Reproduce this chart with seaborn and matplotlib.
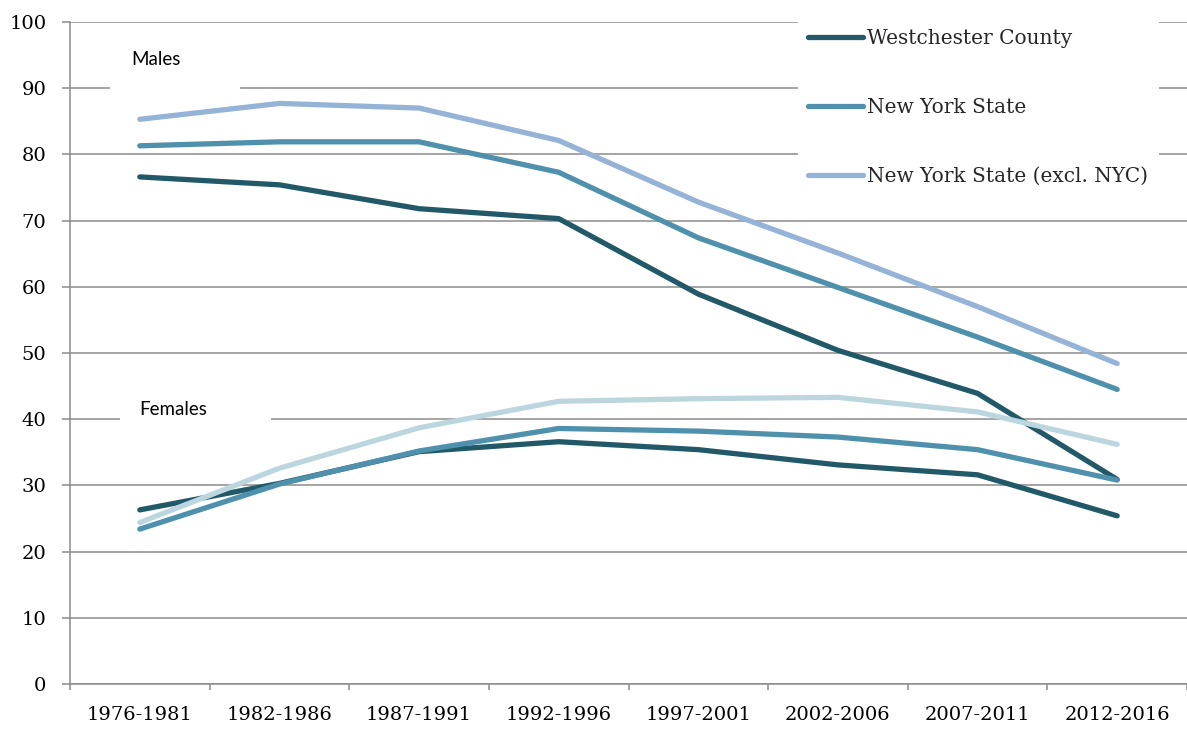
import matplotlib
matplotlib.use("Agg")
import matplotlib.pyplot as plt
from matplotlib.lines import Line2D
from matplotlib.patches import Rectangle
from matplotlib.ticker import FixedLocator
import seaborn as sns
import pandas as pd
import numpy as np

periods = ["1976-1981", "1982-1986", "1987-1991", "1992-1996",
           "1997-2001", "2002-2006", "2007-2011", "2012-2016"]
series_names = ["Westchester County", "New York State", "New York State (excl. NYC)"]

west_m = [76.6, 75.4, 71.8, 70.3, 58.9, 50.4, 43.9, 30.9]
nys_m = [81.3, 81.9, 81.9, 77.3, 67.4, 59.9, 52.4, 44.5]
excl_m = [85.3, 87.7, 87.0, 82.1, 72.8, 65.1, 57.0, 48.4]
west_f = [26.3, 30.3, 35.1, 36.6, 35.4, 33.1, 31.6, 25.4]
nys_f = [23.4, 30.2, 35.2, 38.6, 38.2, 37.3, 35.4, 30.8]
excl_f = [24.4, 32.6, 38.7, 42.7, 43.1, 43.3, 41.1, 36.2]

colors_m = ["#215968", "#4F91AD", "#95B3D7"]
colors_f = ["#215968", "#4F91AD", "#BCD6E0"]

sns.set_theme(style="white")
plt.rcParams['font.family'] = ['DejaVu Serif']

fig = plt.figure(figsize=(11.87, 7.30), dpi=100)
ax = fig.add_axes([70/1187, 1 - 684/730, 1 - 70/1187, (684 - 22)/730])

grid_c = "#8C8C8C"
lw = 3.8
x = np.arange(len(periods))
for vals, col in zip([west_m, nys_m, excl_m], colors_m):
    df = pd.DataFrame({"x": x, "y": vals})
    sns.lineplot(data=df, x="x", y="y", color=col, lw=lw, ax=ax,
                 solid_capstyle="round", solid_joinstyle="round", zorder=4)
for vals, col in zip([west_f, nys_f, excl_f], colors_f):
    df = pd.DataFrame({"x": x, "y": vals})
    sns.lineplot(data=df, x="x", y="y", color=col, lw=lw, ax=ax,
                 solid_capstyle="round", solid_joinstyle="round", zorder=4)

ax.set_xlim(-0.5, 7.5)
ax.set_ylim(0, 100)
ax.set_yticks(np.arange(0, 101, 10))
ax.set_xticks(x)
ax.set_xticklabels(periods)
ax.xaxis.set_minor_locator(FixedLocator(np.arange(-0.5, 8.0, 1.0)))
ax.set_xlabel("")
ax.set_ylabel("")

ax.yaxis.grid(True, color=grid_c, lw=1.1, zorder=1)
ax.set_axisbelow(True)
for s in ["top", "right"]:
    ax.spines[s].set_visible(False)
for s in ["left", "bottom"]:
    ax.spines[s].set_color(grid_c)
    ax.spines[s].set_linewidth(1.1)
    ax.spines[s].set_zorder(2)

ax.tick_params(axis="x", which="major", length=0, pad=16, labelsize=14, labelcolor="black")
ax.tick_params(axis="x", which="minor", length=4.5, width=1.1, color=grid_c, direction="out", bottom=True)
ax.tick_params(axis="y", which="major", length=6, width=1.1, color=grid_c, direction="out",
               pad=11, labelsize=14, labelcolor="black", left=True)

# label boxes hiding gridlines
ax.add_patch(Rectangle((-0.21, 88.3), 0.93, 10.3, facecolor="white", edgecolor="none", zorder=1.5))
ax.add_patch(Rectangle((-0.14, 37.0), 1.08, 6.8, facecolor="white", edgecolor="none", zorder=1.5))
ax.text(0.115, 94.4, "Males", ha="center", va="center", fontsize=13.5,
        family=["Lato", "DejaVu Sans"], color="black", zorder=5)
ax.text(0.24, 41.4, "Females", ha="center", va="center", fontsize=13.5,
        family=["Lato", "DejaVu Sans"], color="black", zorder=5)

handles = [Line2D([0], [0], color=c, lw=lw, solid_capstyle="round") for c in colors_m]
leg = ax.legend(handles, series_names, loc="upper left",
                bbox_to_anchor=((798 - 70)/1117, 1.0053), borderaxespad=0,
                frameon=True, fontsize=14.5, handlelength=2.75, handletextpad=0.2,
                labelspacing=2.5, borderpad=0.5, fancybox=False)
leg.get_frame().set_facecolor("white")
leg.get_frame().set_edgecolor("none")
leg.get_frame().set_alpha(1)
leg.set_zorder(3)

fig.savefig("out.png", dpi=100)
